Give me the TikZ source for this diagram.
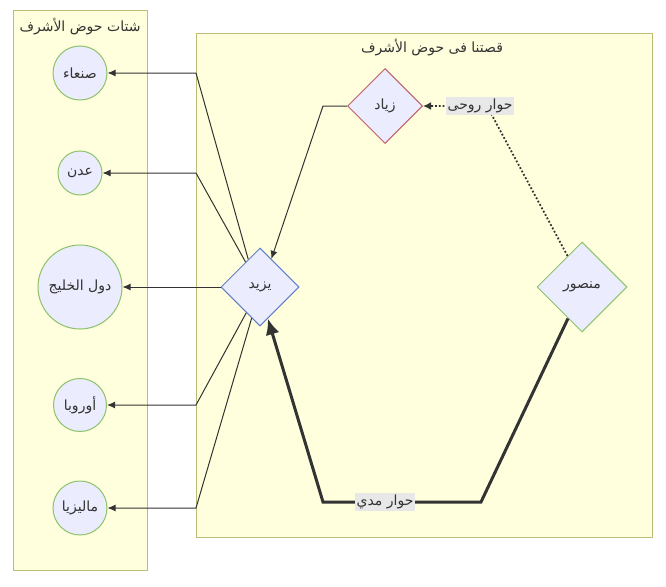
\documentclass[tikz,border=0pt]{standalone}
\usepackage{fontspec}
\TeXXeTstate=1
\newfontfamily\arabicfont[Script=Arabic]{DejaVu Sans}
\usetikzlibrary{shapes.geometric,arrows.meta}
\definecolor{clfill}{HTML}{FFFFDE}
\definecolor{clborder}{HTML}{BDBD7A}
\definecolor{nfill}{HTML}{ECECFF}
\definecolor{greenb}{HTML}{8CC36A}
\definecolor{redb}{HTML}{C0606C}
\definecolor{blueb}{HTML}{5F80C8}
\definecolor{txt}{HTML}{333333}
\definecolor{lblbg}{HTML}{E8E8E8}
\newcommand{\artxt}[1]{{\arabicfont\beginR #1\endR}}
\begin{document}
\begin{tikzpicture}[x=1pt,y=-1pt,
  clusterbox/.style={draw=clborder,fill=clfill,line width=1pt},
  cnode/.style={circle,draw=greenb,fill=nfill,line width=1pt,inner sep=0pt,text=txt,font=\fontsize{14}{16}\selectfont},
  dnode/.style={diamond,fill=nfill,line width=1pt,inner sep=0pt,aspect=1,text=txt,font=\fontsize{14}{16}\selectfont},
  edge/.style={draw=txt,line width=1pt,-{Latex[length=8pt,width=7pt]}},
  lbl/.style={fill=lblbg,inner sep=1.5pt,text=txt,font=\fontsize{14}{16}\selectfont},
  ttl/.style={text=txt,font=\fontsize{14}{16}\selectfont}]
\useasboundingbox (0,0) rectangle (666,586);
\fill[white] (0,0) rectangle (666,586);
% clusters
\draw[clusterbox] (13,11) rectangle (147,570);
\draw[clusterbox] (196,34) rectangle (652,537);
\node[ttl] (t1) at (80,27) {\artxt{شتات حوض الأشرف}};
\node[ttl] (t2) at (432,48) {\artxt{قصتنا فى حوض الأشرف}};
% circles
\node[cnode,minimum size=54pt] (sanaa) at (80,73) {\artxt{صنعاء}};
\node[cnode,minimum size=44pt] (aden) at (80,173) {\artxt{عدن}};
\node[cnode,minimum size=84pt] (gulf) at (80,287) {\artxt{دول الخليج}};
\node[cnode,minimum size=53pt] (europe) at (80,405) {\artxt{أوروبا}};
\node[cnode,minimum size=54pt] (malay) at (80,508) {\artxt{ماليزيا}};
% diamonds
\node[dnode,draw=redb,minimum width=75pt,minimum height=75pt] (zayd) at (385,106) {\artxt{زياد}};
\node[dnode,draw=blueb,minimum width=78pt,minimum height=78pt] (yazid) at (260,287) {\artxt{يزيد}};
\node[dnode,draw=greenb,minimum width=90pt,minimum height=90pt] (mansour) at (582,287) {\artxt{منصور}};
% bend coordinates
\coordinate (c1) at (196,73);
\coordinate (c2) at (196,173);
\coordinate (c4) at (196,405);
\coordinate (c5) at (196,508);
\coordinate (cz) at (323,106);
\coordinate (cd) at (487,106);
\coordinate (cm1) at (481,502);
\coordinate (cm2) at (323,502);
% edges from yazid
\draw[edge] (yazid.113) -- (c1) -- (sanaa.east);
\draw[edge] (yazid.120) -- (c2) -- (aden.east);
\draw[edge] (yazid.west) -- (gulf.east);
\draw[edge] (yazid.242) -- (c4) -- (europe.east);
\draw[edge] (yazid.255) -- (c5) -- (malay.east);
% zayd -> yazid
\draw[edge] (zayd.west) -- (cz) -- (yazid.68);
% mansour -> zayd dotted
\draw[draw=txt,line width=1.8pt,dotted,-{Latex[length=8pt,width=8pt]}] (mansour.115) -- (cd) -- (zayd.east);
\node[lbl] (l1) at (480,106) {\artxt{حوار روحى}};
% mansour -> yazid thick
\draw[draw=txt,line width=3pt,line join=miter,-{Latex[length=16pt,width=14pt]}] (mansour.246) -- (cm1) -- (cm2) -- (yazid.284);
\node[lbl] (l2) at (385,502) {\artxt{حوار مدي}};
\end{tikzpicture}
\end{document}
